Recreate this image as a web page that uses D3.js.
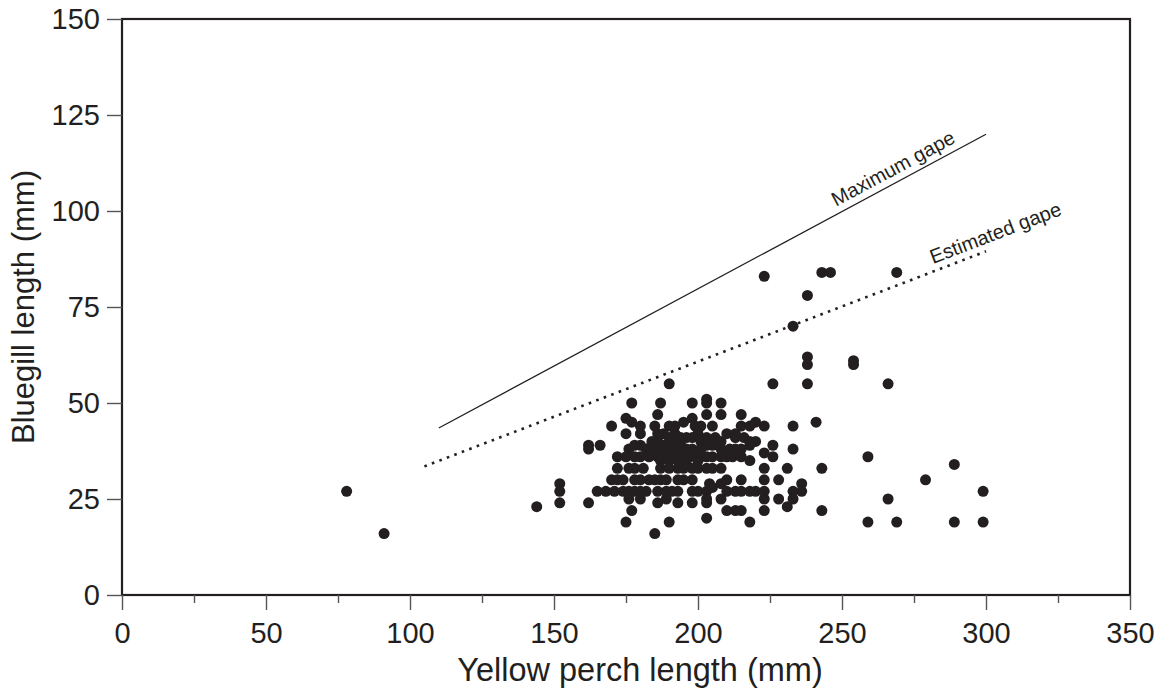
<!DOCTYPE html>
<html><head><meta charset="utf-8">
<script src="https://cdn.jsdelivr.net/npm/d3@7"></script>
<style>body{margin:0;background:#fff}text{font-family:"Liberation Sans",Arial,sans-serif}</style>
</head><body><svg id="c" width="1167" height="691"></svg>
<script>
const xTicks=[0,50,100,150,200,250,300,350];
const xMinorTicks=[25,75,125,175,225,275,325];
const yTicks=[0,25,50,75,100,125,150];
const xTitle="Yellow perch length (mm)";
const yTitle="Bluegill length (mm)";

// Yellow perch length (x) and bluegill length (y) of each observation
const perchLength=[78,91,144,152,152,152,162,162,162,166,165,
 190,226,238,266,203,
 177,187,198,203,208,
 175,186,203,208,215,198,
 177,195,220,241,
 170,180,185,199,201,205,215,218,223,233,190,192,
 175,186,188,213,180,190,192,196,200,206,210,216,
 194,203,213,198,
 186,201,205,208,218,220,184,191,
 180,189,203,226,188,194,176,178,182,184,198,205,213,218,
 186,189,201,208,211,215,233,190,196,193,
 189,223,192,199,185,
 172,175,180,183,186,205,208,210,226,197,188,178,190,192,194,199,201,203,212,215,
 218,187,190,193,200,196,
 172,176,178,181,187,190,193,195,198,203,208,223,231,243,200,205,
 170,174,180,183,185,189,193,198,215,223,228,172,178,187,195,210,
 204,208,236,205,
 171,174,176,180,182,186,189,193,198,203,210,215,220,223,233,236,168,178,191,200,213,218,
 203,223,228,233,266,176,180,189,208,
 186,193,198,203,231,
 177,210,213,215,223,243,203,
 175,190,218,259,269,289,299,185,
 223,243,246,269,238,233,238,238,254,254,259,279,289,299];
const bluegillLength=[27,16,23,29,27,24,24,39,38,39,27,
 55,55,55,55,51,
 50,50,50,50,50,
 46,47,47,47,47,46,
 45,45,45,45,
 44,44,44,44,44,44,44,44,44,44,44,44,
 42,42,42,42,42,41,42,41,42,41,42,41,
 41,41,41,41,
 40,40,40,40,40,40,40,40,
 39,39,39,39,39,39,38,39,38,39,38,39,38,39,
 38,38,38,38,38,38,38,38,38,38,
 37,37,37,37,37,
 36,36,36,36,36,36,36,36,36,36,36,36,36,36,36,36,36,36,36,36,
 35,35,35,35,35,34,
 33,33,33,33,33,33,33,33,33,33,33,33,33,33,33,33,
 30,30,30,30,30,30,30,30,30,30,30,30,30,30,30,30,
 29,29,29,28,
 27,27,27,27,27,27,27,27,27,27,27,27,27,27,27,27,27,27,27,27,27,27,
 25,25,25,25,25,25,25,25,25,
 24,24,24,24,23,
 22,22,22,22,22,22,20,
 19,19,19,19,19,19,19,16,
 83,84,84,84,78,70,62,60,61,60,36,30,34,27];

const maxGapeX=[110,300], maxGapeY=[43.5,120];
const estGapeX=[105,300], estGapeY=[33.5,89.5];
const lineLabels=["Maximum gape","Estimated gape"];

const svg=d3.select("#c");
const x=d3.scaleLinear().domain([0,350]).range([122,1130]);
const y=d3.scaleLinear().domain([0,150]).range([595,19]);
const ink="#231f20";

// frame
svg.append("rect").attr("x",x(0)).attr("y",y(150)).attr("width",x(350)-x(0)).attr("height",y(0)-y(150))
 .attr("fill","none").attr("stroke",ink).attr("stroke-width",2.2);

// x axis
const gx=svg.append("g").attr("transform",`translate(0,${y(0)})`)
 .call(d3.axisBottom(x).tickValues(xTicks).tickSize(15).tickPadding(12));
gx.select(".domain").remove();
gx.selectAll(".tick line").attr("stroke","#555").attr("stroke-width",1.4);
gx.selectAll(".tick text").attr("font-size",29).attr("fill",ink).attr("font-family","Liberation Sans, Arial, sans-serif");
const gxm=svg.append("g").attr("transform",`translate(0,${y(0)})`)
 .call(d3.axisBottom(x).tickValues(xMinorTicks).tickSize(8).tickFormat(""));
gxm.select(".domain").remove();
gxm.selectAll(".tick line").attr("stroke","#555").attr("stroke-width",1.4);

// y axis
const gy=svg.append("g").attr("transform",`translate(${x(0)},0)`)
 .call(d3.axisLeft(y).tickValues(yTicks).tickSize(15).tickPadding(7));
gy.select(".domain").remove();
gy.selectAll(".tick line").attr("stroke","#555").attr("stroke-width",1.4);
gy.selectAll(".tick text").attr("font-size",29).attr("fill",ink).attr("font-family","Liberation Sans, Arial, sans-serif");

// titles
svg.append("text").attr("x",640).attr("y",681).attr("text-anchor","middle")
 .attr("font-size",32.5).attr("fill",ink).text(xTitle);
svg.append("text").attr("transform",`translate(34,307) rotate(-90)`).attr("text-anchor","middle")
 .attr("font-size",31).attr("fill",ink).text(yTitle);

// lines
const line=d3.line().x(d=>x(d[0])).y(d=>y(d[1]));
svg.append("path").attr("d",line(d3.zip(maxGapeX,maxGapeY))).attr("fill","none").attr("stroke",ink).attr("stroke-width",1.3);
svg.append("path").attr("d",line(d3.zip(estGapeX,estGapeY))).attr("fill","none").attr("stroke",ink)
 .attr("stroke-width",2.6).attr("stroke-dasharray","2.6,5.4");

// line labels
function label(xs,ys,t,at,off){
  const ang=Math.atan2(y(ys[1])-y(ys[0]),x(xs[1])-x(xs[0]))*180/Math.PI;
  const px=x(at), py=y(ys[0]+(at-xs[0])*(ys[1]-ys[0])/(xs[1]-xs[0]));
  svg.append("text").attr("transform",`translate(${px},${py}) rotate(${ang}) translate(0,${off})`)
   .attr("text-anchor","middle").attr("font-size",20).attr("fill",ink).text(t);
}
label(maxGapeX,maxGapeY,lineLabels[0],270,-7);
label(estGapeX,estGapeY,lineLabels[1],305,-7);

// points
svg.append("g").selectAll("circle").data(d3.zip(perchLength,bluegillLength)).join("circle")
 .attr("cx",d=>x(d[0])).attr("cy",d=>y(d[1])).attr("r",5.5).attr("fill",ink);
</script></body></html>
